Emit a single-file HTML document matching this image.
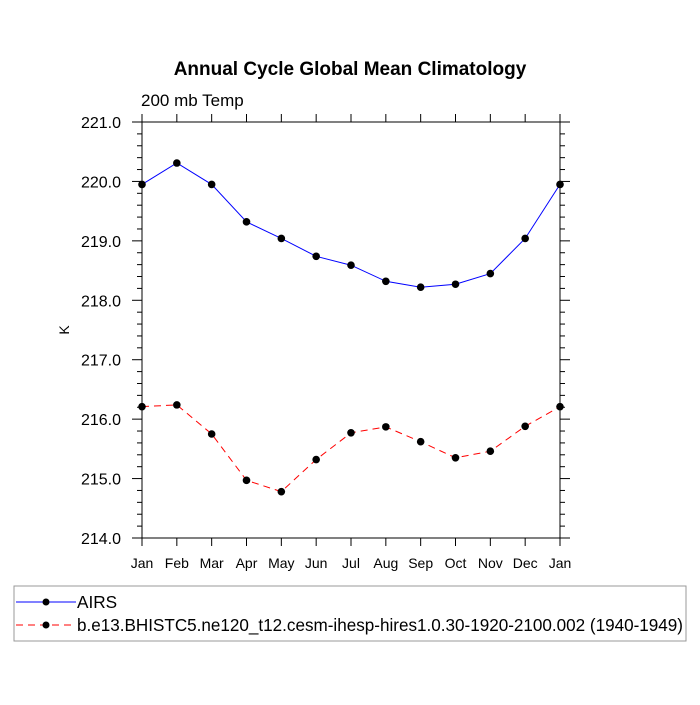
<!DOCTYPE html>
<html><head><meta charset="utf-8"><style>
body{margin:0;background:#fff}
svg text{font-family:"Liberation Sans",Arial,sans-serif;fill:#000}
</style></head><body>
<svg id="c" width="700" height="700" xmlns="http://www.w3.org/2000/svg">
<text x="350" y="75" text-anchor="middle" font-size="19" font-weight="bold">Annual Cycle Global Mean Climatology</text>
<text x="141" y="106" font-size="17">200 mb Temp</text>
<text x="69" y="330" font-size="14" text-anchor="middle" transform="rotate(-90 69 330)">K</text>
<g id="axes"></g><g id="series"></g>
<rect x="14" y="586" width="672" height="55" fill="none" stroke="#999" stroke-width="1"/>
<g>
<line x1="16" y1="602" x2="76" y2="602" stroke="#00f" stroke-width="1"/>
<circle cx="46" cy="602" r="3.5" fill="#000"/>
<text x="77" y="608" font-size="17.2">AIRS</text></g>
<g>
<line x1="16" y1="625" x2="76" y2="625" stroke="#f00" stroke-width="1" stroke-dasharray="7,5"/>
<circle cx="46" cy="625" r="3.5" fill="#000"/>
<text x="77" y="631" font-size="17.2" textLength="606" lengthAdjust="spacingAndGlyphs">b.e13.BHISTC5.ne120_t12.cesm-ihesp-hires1.0.30-1920-2100.002 (1940-1949)</text></g>
</svg>
<script>
const months=["Jan","Feb","Mar","Apr","May","Jun","Jul","Aug","Sep","Oct","Nov","Dec","Jan"];
const airs=[219.95,220.31,219.95,219.32,219.04,218.74,218.59,218.32,218.22,218.27,218.45,219.04,219.95];
const model=[216.21,216.24,215.75,214.97,214.78,215.32,215.77,215.87,215.62,215.35,215.46,215.88,216.21];
const yTicks=[214.0,215.0,216.0,217.0,218.0,219.0,220.0,221.0];
const NS="http://www.w3.org/2000/svg";
const L=142,R=560,T=122,B=538,ymin=214,ymax=221;
const sx=i=>L+(R-L)*i/(months.length-1);
const sy=v=>B-(B-T)*(v-ymin)/(ymax-ymin);
function mk(tag,attrs,parent){const e=document.createElementNS(NS,tag);for(const k in attrs)e.setAttribute(k,attrs[k]);parent.appendChild(e);return e;}
const ax=document.getElementById('axes');
const frame=mk('rect',{x:L,y:T,width:R-L,height:B-T,fill:'none',stroke:'#000','stroke-width':1},ax);


months.forEach((m,i)=>{const x=sx(i);
mk('line',{x1:x,y1:B,x2:x,y2:B+8,stroke:'#000'},ax);
mk('line',{x1:x,y1:T,x2:x,y2:T-8,stroke:'#000'},ax);
const t=mk('text',{x:x,y:B+30,'text-anchor':'middle','font-size':14},ax);t.textContent=m;

});
for(let v=ymin;v<=ymax+1e-6;v+=0.2){const y=sy(v);const major=Math.abs(v-Math.round(v))<1e-6;const len=major?10:5;
mk('line',{x1:L-len,y1:y,x2:L,y2:y,stroke:'#000'},ax);
mk('line',{x1:R,y1:y,x2:R+len,y2:y,stroke:'#000'},ax);}
yTicks.forEach(v=>{const t=mk('text',{x:L-21,y:sy(v)+6,'text-anchor':'end','font-size':16},ax);t.textContent=v.toFixed(1);

});
const sg=document.getElementById('series');
function draw(vals,color,dash,name){
const g=mk('g',{},sg);


const p=mk('polyline',{points:vals.map((v,i)=>sx(i)+','+sy(v)).join(' '),fill:'none',stroke:color,'stroke-width':1},g);
if(dash)p.setAttribute('stroke-dasharray',dash);
vals.forEach((v,i)=>{const c=mk('circle',{cx:sx(i),cy:sy(v),r:3.8,fill:'#000'},g);

});}
draw(airs,'#00f',null,'airs-series');
draw(model,'#f00','7,5','model-series');
</script>
</body></html>
